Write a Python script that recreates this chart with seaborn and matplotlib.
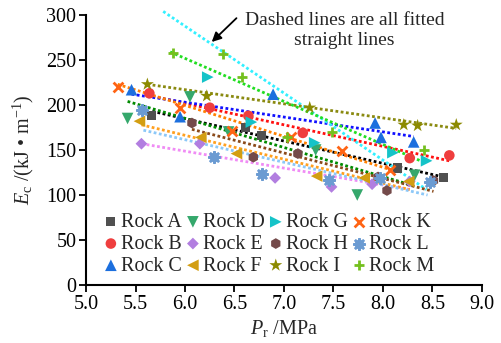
import numpy as np
import pandas as pd
import matplotlib
matplotlib.use("Agg")
import matplotlib.pyplot as plt
import seaborn as sns

# ---------------- data ----------------
rocks = ["Rock A", "Rock B", "Rock C", "Rock D", "Rock E", "Rock F",
         "Rock G", "Rock H", "Rock I", "Rock K", "Rock L", "Rock M"]

pr_A = [5.66, 6.61, 6.77, 8.15, 8.61]
ec_A = [188, 175, 166, 130, 119]
pr_B = [5.64, 6.25, 6.64, 7.19, 8.27, 8.67]
ec_B = [213, 197, 188, 169, 141, 144]
pr_C = [5.46, 5.95, 6.89, 7.92, 7.98, 8.31]
ec_C = [217, 187, 212, 180, 164, 159]
pr_D = [5.42, 6.05, 6.44, 7.32, 7.74, 8.32]
ec_D = [185, 209, 170, 150, 100, 122]
pr_E = [5.56, 6.15, 6.91, 7.48, 7.89, 8.27]
ec_E = [157, 157, 119, 109, 112, 115]
pr_F = [5.54, 6.16, 6.52, 7.33, 7.81, 8.26]
ec_F = [182, 164, 146, 121, 119, 115]
pr_G = [6.23, 6.67, 7.31, 8.10, 8.44]
ec_G = [231, 181, 158, 147, 138]
pr_H = [6.07, 6.69, 7.14, 7.95, 8.04, 8.51]
ec_H = [180, 142, 146, 120, 105, 116]
pr_I = [5.62, 6.22, 7.26, 8.21, 8.35, 8.74]
ec_I = [223, 210, 197, 178, 177, 178]
pr_K = [5.32, 5.95, 6.47, 7.07, 7.59, 8.07]
ec_K = [220, 197, 171, 165, 149, 128]
pr_L = [5.57, 6.29, 6.78, 7.45, 7.97, 8.47]
ec_L = [194, 142, 123, 117, 119, 115]
pr_M = [5.88, 6.38, 6.58, 7.03, 7.48, 8.41]
ec_M = [258, 257, 231, 164, 170, 150]

# fitted straight lines: start / end points
fit_x0 = [5.67, 5.62, 5.46, 5.42, 5.56, 5.56, 5.78, 6.07, 5.62, 5.32, 5.58, 5.85]
fit_y0 = [193, 211, 212, 204, 157, 178, 304, 173, 223, 223, 172, 259]
fit_x1 = [8.61, 8.67, 8.31, 8.32, 8.27, 8.27, 8.44, 8.51, 8.74, 8.08, 8.45, 8.42]
fit_y1 = [120, 138, 165, 110, 106, 106, 106, 104, 174, 128, 100, 136]

x_ticks = [5.0, 5.5, 6.0, 6.5, 7.0, 7.5, 8.0, 8.5, 9.0]
y_ticks = [0, 50, 100, 150, 200, 250, 300]

pr_all = [pr_A, pr_B, pr_C, pr_D, pr_E, pr_F, pr_G, pr_H, pr_I, pr_K, pr_L, pr_M]
ec_all = [ec_A, ec_B, ec_C, ec_D, ec_E, ec_F, ec_G, ec_H, ec_I, ec_K, ec_L, ec_M]

# ---------------- styles ----------------
marker_cols = ["#505050", "#ef3e3e", "#1c6fde", "#35a86c", "#b27ee0", "#d39e12",
               "#15c3c8", "#744a4a", "#8c8a00", "#ff6414", "#6b9bd2", "#74c01e"]
line_cols = ["#000000", "#ff1010", "#1010ff", "#008a00", "#f08cf5", "#ffa020",
             "#33f0ff", "#8b4a1a", "#8a8a10", "#ff8000", "#8cc8f8", "#22dd22"]
markers = ["s", "o", "^", "v", "D", "<", ">", "h", "*", "x", (8, 2, 0), "+"]
sizes = [42, 58, 70, 70, 36, 70, 70, 60, 95, 50, 55, 55]

sns.set_style("ticks")
plt.rcParams["font.family"] = ["Liberation Serif", "DejaVu Serif"]
plt.rcParams["mathtext.fontset"] = "custom"
plt.rcParams["mathtext.rm"] = "Liberation Serif"
plt.rcParams["mathtext.it"] = "Liberation Serif:italic"

fig = plt.figure(figsize=(5.02, 3.43), dpi=100)
ax = fig.add_axes([86 / 502, 1 - 285 / 343, 396 / 502, 270 / 343])

# fitted lines
for i in range(len(rocks)):
    sns.lineplot(x=[fit_x0[i], fit_x1[i]], y=[fit_y0[i], fit_y1[i]], ax=ax,
                 color=line_cols[i], linestyle=(0, (1, 0.9)), linewidth=2.0,
                 clip_on=False, zorder=2)

# data points
for i in range(len(rocks)):
    df = pd.DataFrame({"pr": pr_all[i], "ec": ec_all[i]})
    kw = dict(marker=markers[i], s=sizes[i], color=marker_cols[i], zorder=3)
    if markers[i] in ("x", "+") or isinstance(markers[i], tuple):
        kw["linewidth"] = 2.0
    else:
        kw["edgecolor"] = "none"
    sns.scatterplot(data=df, x="pr", y="ec", ax=ax, label=rocks[i], legend=False,
                    clip_on=False, **kw)

ax.set_xlim(5.0, 9.0)
ax.set_ylim(0, 300)
ax.set_xticks(x_ticks)
ax.set_xticklabels([f"{v:.1f}" for v in x_ticks])
ax.set_yticks(y_ticks)
ax.tick_params(axis="both", labelsize=14.5, length=5, width=1.3, direction="out",
               colors="black", pad=2)
for sp in ["top", "right"]:
    ax.spines[sp].set_visible(False)
for sp in ["left", "bottom"]:
    ax.spines[sp].set_linewidth(1.5)
    ax.spines[sp].set_color("black")

ax.set_xlabel(r"$P_{\rm r}$ /MPa", fontsize=14.5, labelpad=3)
ax.set_ylabel(r"$E_{\rm c}$ /(kJ • m$^{-1}$)", fontsize=14.5, labelpad=7)

# legend
h, l = ax.get_legend_handles_labels()
leg = ax.legend(h, l, ncol=4, loc="lower left", bbox_to_anchor=(0.045, 0.035),
                frameon=False, fontsize=14.5, handletextpad=0.15, columnspacing=0.2,
                handlelength=0.7, labelspacing=0.13, borderpad=0, borderaxespad=0,
                scatterpoints=1)

# annotation
ax.text(7.61, 283, "Dashed lines are all fitted\nstraight lines", ha="center",
        va="center", fontsize=14, multialignment="center", linespacing=1.25,
        clip_on=False)
ax.annotate("", xy=(6.27, 270), xytext=(6.52, 296.5),
            arrowprops=dict(arrowstyle="-|>", color="black", lw=1.3,
                            mutation_scale=14, shrinkA=0, shrinkB=0),
            annotation_clip=False)

fig.savefig("out.png", dpi=100)
